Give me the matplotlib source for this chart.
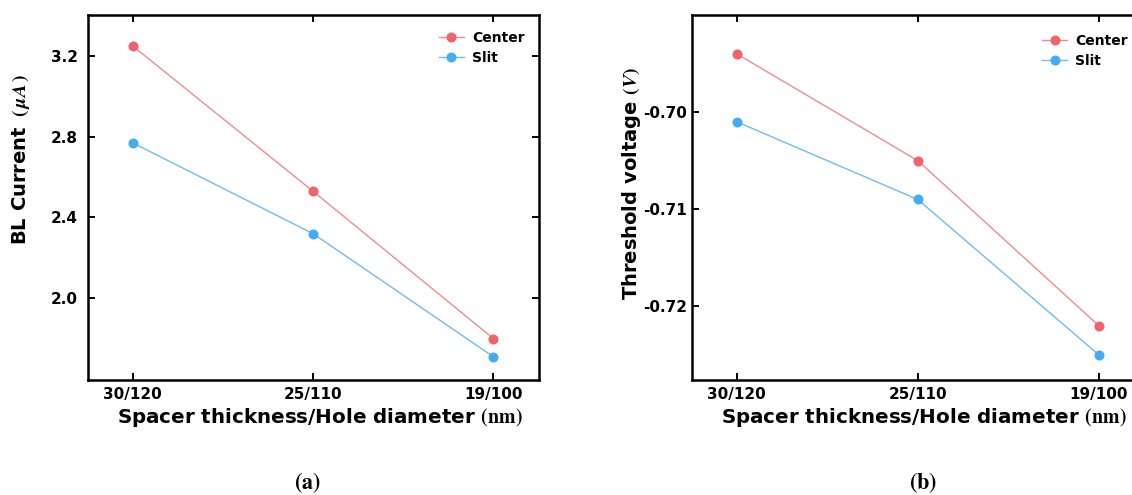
import matplotlib
matplotlib.use("Agg")
import matplotlib.pyplot as plt

# ---- data ----
categories = ["30/120", "25/110", "19/100"]
bl_center = [3.25, 2.53, 1.80]
bl_slit = [2.77, 2.32, 1.71]
vth_center = [-0.694, -0.705, -0.722]
vth_slit = [-0.701, -0.709, -0.725]
series_names = ["Center", "Slit"]
bl_ticks = [2.0, 2.4, 2.8, 3.2]
vth_ticks = [-0.72, -0.71, -0.70]

plt.rcParams['font.family'] = ['DejaVu Sans']
plt.rcParams['font.weight'] = 'bold'
plt.rcParams['mathtext.fontset'] = 'stix'

RED = '#F2626A'
RED_L = '#F58A8F'
BLUE = '#44ACF3'
BLUE_L = '#6CBDF2'

W, H = 1132, 495
fig = plt.figure(figsize=(W / 100, H / 100), dpi=100)


def px_axes(x0, x1, y0, y1):
    return fig.add_axes([x0 / W, 1 - y1 / H, (x1 - x0) / W, (y1 - y0) / H])


axL = px_axes(87.5, 538.5, 15, 380)
axR = px_axes(691.5, 1143.5, 15, 380)

x = list(range(len(categories)))

for ax, c, s in [(axL, bl_center, bl_slit), (axR, vth_center, vth_slit)]:
    ax.plot(x, c, color=RED_L, lw=1.0, marker='o', ms=6.2, mfc=RED, mec=RED,
            label=series_names[0])
    ax.plot(x, s, color=BLUE_L, lw=1.0, marker='o', ms=6.2, mfc=BLUE, mec=BLUE,
            label=series_names[1])
    ax.set_xticks(x)
    ax.set_xticklabels(categories)
    for sp in ax.spines.values():
        sp.set_linewidth(1.8)
        sp.set_color('black')
    ax.tick_params(direction='in', length=5, width=1.4, top=True, right=True,
                   labelsize=11, colors='black')
    ax.tick_params(axis='x', pad=5)
    ax.set_xlabel(r"Spacer thickness/Hole diameter $\mathbf{(nm)}$",
                  fontsize=14.3, fontweight='bold')
    ax.xaxis.set_label_coords(0.515, -0.07)

axL.set_xlim(-0.25, 2.25)
axL.set_ylim(1.595, 3.403)
axL.set_yticks(bl_ticks)
axL.set_yticklabels([f"{v:.1f}" for v in bl_ticks])
axL.tick_params(axis='y', pad=7)
axL.set_ylabel(r"BL Current $\;(\,\mathit{\mu A}\,)$", fontsize=14, fontweight='bold')
axL.yaxis.set_label_coords(-0.123, 0.605)

xr_max = 2 + (1143.5 - 1098.7) / 181.0
axR.set_xlim(-0.25, xr_max)
axR.set_ylim(-0.7276, -0.690)
axR.set_yticks(vth_ticks)
axR.set_yticklabels([f"{v:.2f}" for v in vth_ticks])
axR.tick_params(axis='y', pad=3.5)
axR.set_ylabel(r"Threshold voltage $(\mathit{V})$", fontsize=14, fontweight='bold')
axR.yaxis.set_label_coords(-0.107, 0.537)

legL = axL.legend(loc='upper right', bbox_to_anchor=(1 - 14 / 451, 1 - 16 / 365),
                  frameon=False, fontsize=10, handlelength=1.8, handletextpad=0.6,
                  labelspacing=0.45, borderaxespad=0, borderpad=0)
legR = axR.legend(loc='upper right', bbox_to_anchor=((1128 - 691.5) / 452, 1 - 19 / 365),
                  frameon=False, fontsize=10, handlelength=1.8, handletextpad=0.6,
                  labelspacing=0.45, borderaxespad=0, borderpad=0)
for leg in (legL, legR):
    for t in leg.get_texts():
        t.set_fontweight('bold')

fig.text(307 / W, 1 - 483 / H, r"$(\mathbf{a})$", ha='center', va='center', fontsize=16)
fig.text(923 / W, 1 - 483 / H, r"$(\mathbf{b})$", ha='center', va='center', fontsize=16)

fig.savefig("out.png", dpi=100)
